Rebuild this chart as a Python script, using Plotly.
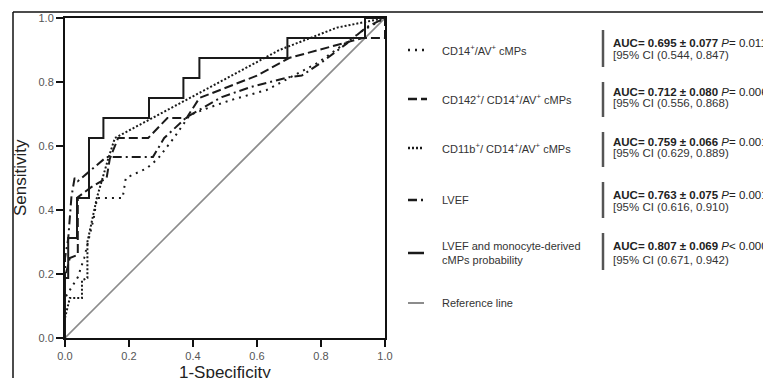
import plotly.graph_objects as go

# ---------------- data ----------------
series_names = [
    "CD14<sup>+</sup>/AV<sup>+</sup> cMPs",
    "CD142<sup>+</sup>/ CD14<sup>+</sup>/AV<sup>+</sup> cMPs",
    "CD11b<sup>+</sup>/ CD14<sup>+</sup>/AV<sup>+</sup> cMPs",
    "LVEF",
    "LVEF and monocyte-derived<br>cMPs probability",
    "Reference line",
]

cd14_fpr = [0, 0, 0.04, 0.06, 0.075, 0.09, 0.10, 0.18, 0.19, 0.255, 0.29, 0.34, 0.39, 0.45, 0.52, 0.58, 0.63, 0.79, 0.93, 1.0]
cd14_tpr = [0, 0.125, 0.19, 0.25, 0.3125, 0.375, 0.4375, 0.4375, 0.50, 0.53, 0.56, 0.625, 0.697, 0.72, 0.744, 0.76, 0.775, 0.86, 0.96, 1.0]

cd142_fpr = [0, 0, 0.015, 0.04, 0.04, 0.08, 0.13, 0.14, 0.166, 0.26, 0.32, 0.38, 0.42, 0.60, 0.70, 0.93, 1.0, 1.0]
cd142_tpr = [0, 0.19, 0.25, 0.26, 0.44, 0.47, 0.50, 0.56, 0.625, 0.625, 0.6875, 0.6875, 0.75, 0.82, 0.875, 0.9375, 0.9375, 1.0]

cd11b_fpr = [0, 0, 0.015, 0.053, 0.053, 0.07, 0.07, 0.10, 0.135, 0.156, 0.42, 0.67, 0.85, 1.0]
cd11b_tpr = [0, 0.0625, 0.125, 0.125, 0.18, 0.1875, 0.30, 0.44, 0.56, 0.625, 0.766, 0.90, 0.97, 1.0]

lvef_fpr = [0, 0, 0.01, 0.02, 0.03, 0.04, 0.13, 0.275, 0.31, 0.38, 0.49, 0.58, 0.70, 0.74, 0.80, 0.88, 0.94, 1.0]
lvef_tpr = [0, 0.25, 0.31, 0.44, 0.50, 0.49, 0.566, 0.566, 0.625, 0.69, 0.753, 0.784, 0.815, 0.82, 0.86, 0.92, 0.97, 1.0]

comb_fpr = [0, 0, 0.01, 0.01, 0.0375, 0.0375, 0.075, 0.075, 0.12, 0.12, 0.2625, 0.2625, 0.37, 0.37, 0.42, 0.42, 0.695, 0.695, 0.9375, 0.9375, 1.0]
comb_tpr = [0, 0.1875, 0.1875, 0.3125, 0.3125, 0.4375, 0.4375, 0.625, 0.625, 0.6875, 0.6875, 0.75, 0.75, 0.8125, 0.8125, 0.875, 0.875, 0.9375, 0.9375, 1.0, 1.0]

ref_fpr = [0, 1]
ref_tpr = [0, 1]

auc_values = ["0.695 ± 0.077", "0.712 ± 0.080", "0.759 ± 0.066", "0.763 ± 0.075", "0.807 ± 0.069"]
p_values = ["= 0.011", "= 0.006", "= 0.001", "= 0.001", "< 0.0001"]
ci_values = ["0.544, 0.847", "0.556, 0.868", "0.629, 0.889", "0.616, 0.910", "0.671, 0.942"]

tick_vals = [0, 0.2, 0.4, 0.6, 0.8, 1.0]
tick_text = ["0.0", "0.2", "0.4", "0.6", "0.8", "1.0"]

# ---------------- styles ----------------
W, H = 763, 378
L, R, T, B = 65, 385, 18, 338  # plot area pixel box
PW, PH = R - L, B - T


def px(x):
    return (x - L) / PW


def py(y):
    return (B - y) / PH


FONT = "Liberation Sans, Arial, sans-serif"
INK = "#1a1a1a"
styles = [
    dict(color=INK, width=2, dash="2px,5px"),
    dict(color=INK, width=2, dash="9px,4px"),
    dict(color=INK, width=2, dash="2px,2px"),
    dict(color=INK, width=2, dash="9px,4px,2px,4px"),
    dict(color=INK, width=2, dash="solid"),
    dict(color="#8c8c8c", width=1.6, dash="solid"),
]
xs = [cd14_fpr, cd142_fpr, cd11b_fpr, lvef_fpr, comb_fpr, ref_fpr]
ys = [cd14_tpr, cd142_tpr, cd11b_tpr, lvef_tpr, comb_tpr, ref_tpr]

fig = go.Figure()
draw_order = [5, 0, 3, 1, 2, 4]
for i in draw_order:
    fig.add_trace(go.Scatter(x=xs[i], y=ys[i], mode="lines", line=styles[i],
                             showlegend=False, hoverinfo="skip"))

shapes = []
annotations = []

# outer frame (left and top lines)
shapes.append(dict(type="line", xref="paper", yref="paper", x0=px(13), x1=px(13), y0=py(12), y1=py(390),
                   line=dict(color="#111", width=1.5)))
shapes.append(dict(type="line", xref="paper", yref="paper", x0=px(13), x1=px(780), y0=py(12), y1=py(12),
                   line=dict(color="#111", width=1.5)))

# legend (custom)
legend_rows = [50, 99, 148, 200, 253, 303]
sample_x = [(408, 428), (408, 427), (408, 422), (408, 424), (408, 424), (408, 424)]
for i, yrow in enumerate(legend_rows):
    x0, x1 = sample_x[i]
    st = styles[i]
    shapes.append(dict(type="line", xref="paper", yref="paper", x0=px(x0), x1=px(x1), y0=py(yrow), y1=py(yrow),
                       line=dict(color=st["color"], width=2.5 if i < 5 else 2, dash=st["dash"])))
    annotations.append(dict(xref="paper", yref="paper", x=px(440), y=py(yrow), xanchor="left", yanchor="middle",
                            text=series_names[i], showarrow=False, align="left",
                            font=dict(family=FONT, size=11, color="#333")))

# AUC blocks
bar_spans = [(30, 67), (82, 117), (132, 167), (182, 218), (233, 270)]
line1_y = [43, 92, 142, 195, 246]
line2_y = [55, 103, 153, 207, 260]
for i in range(5):
    y0, y1 = bar_spans[i]
    shapes.append(dict(type="line", xref="paper", yref="paper", x0=px(603), x1=px(603), y0=py(y0), y1=py(y1),
                       line=dict(color="#555", width=2.5)))
    annotations.append(dict(xref="paper", yref="paper", x=px(611), y=py(line1_y[i]), xanchor="left",
                            yanchor="middle", showarrow=False,
                            text=f"<b>AUC= {auc_values[i]}</b> <i>P</i>{p_values[i]}",
                            font=dict(family=FONT, size=11.5, color="#222")))
    annotations.append(dict(xref="paper", yref="paper", x=px(611), y=py(line2_y[i]), xanchor="left",
                            yanchor="middle", showarrow=False,
                            text=f"[95% CI ({ci_values[i]})",
                            font=dict(family=FONT, size=11.5, color="#333")))

# axis titles
annotations.append(dict(xref="paper", yref="paper", x=px(20), y=0.5, xanchor="center", yanchor="middle",
                        text="Sensitivity", textangle=-90, showarrow=False,
                        font=dict(family=FONT, size=17, color="#222")))
annotations.append(dict(xref="paper", yref="paper", x=0.5, y=py(372), xanchor="center", yanchor="middle",
                        text="1-Specificity", showarrow=False,
                        font=dict(family=FONT, size=17, color="#222")))

axis_common = dict(range=[0, 1], tickvals=tick_vals, ticktext=tick_text, showgrid=False, zeroline=False,
                   showline=True, linecolor="#111", linewidth=2, mirror=True, ticks="outside",
                   ticklen=7, tickwidth=1.5, tickcolor="#111",
                   tickfont=dict(family=FONT, size=11, color="#555"), fixedrange=True)

fig.update_layout(
    width=W, height=H, autosize=False,
    margin=dict(l=L, r=W - R, t=T, b=H - B, pad=0),
    plot_bgcolor="white", paper_bgcolor="white",
    xaxis=axis_common, yaxis=axis_common,
    shapes=shapes, annotations=annotations,
    showlegend=False,
)

fig.write_html("out.html")
